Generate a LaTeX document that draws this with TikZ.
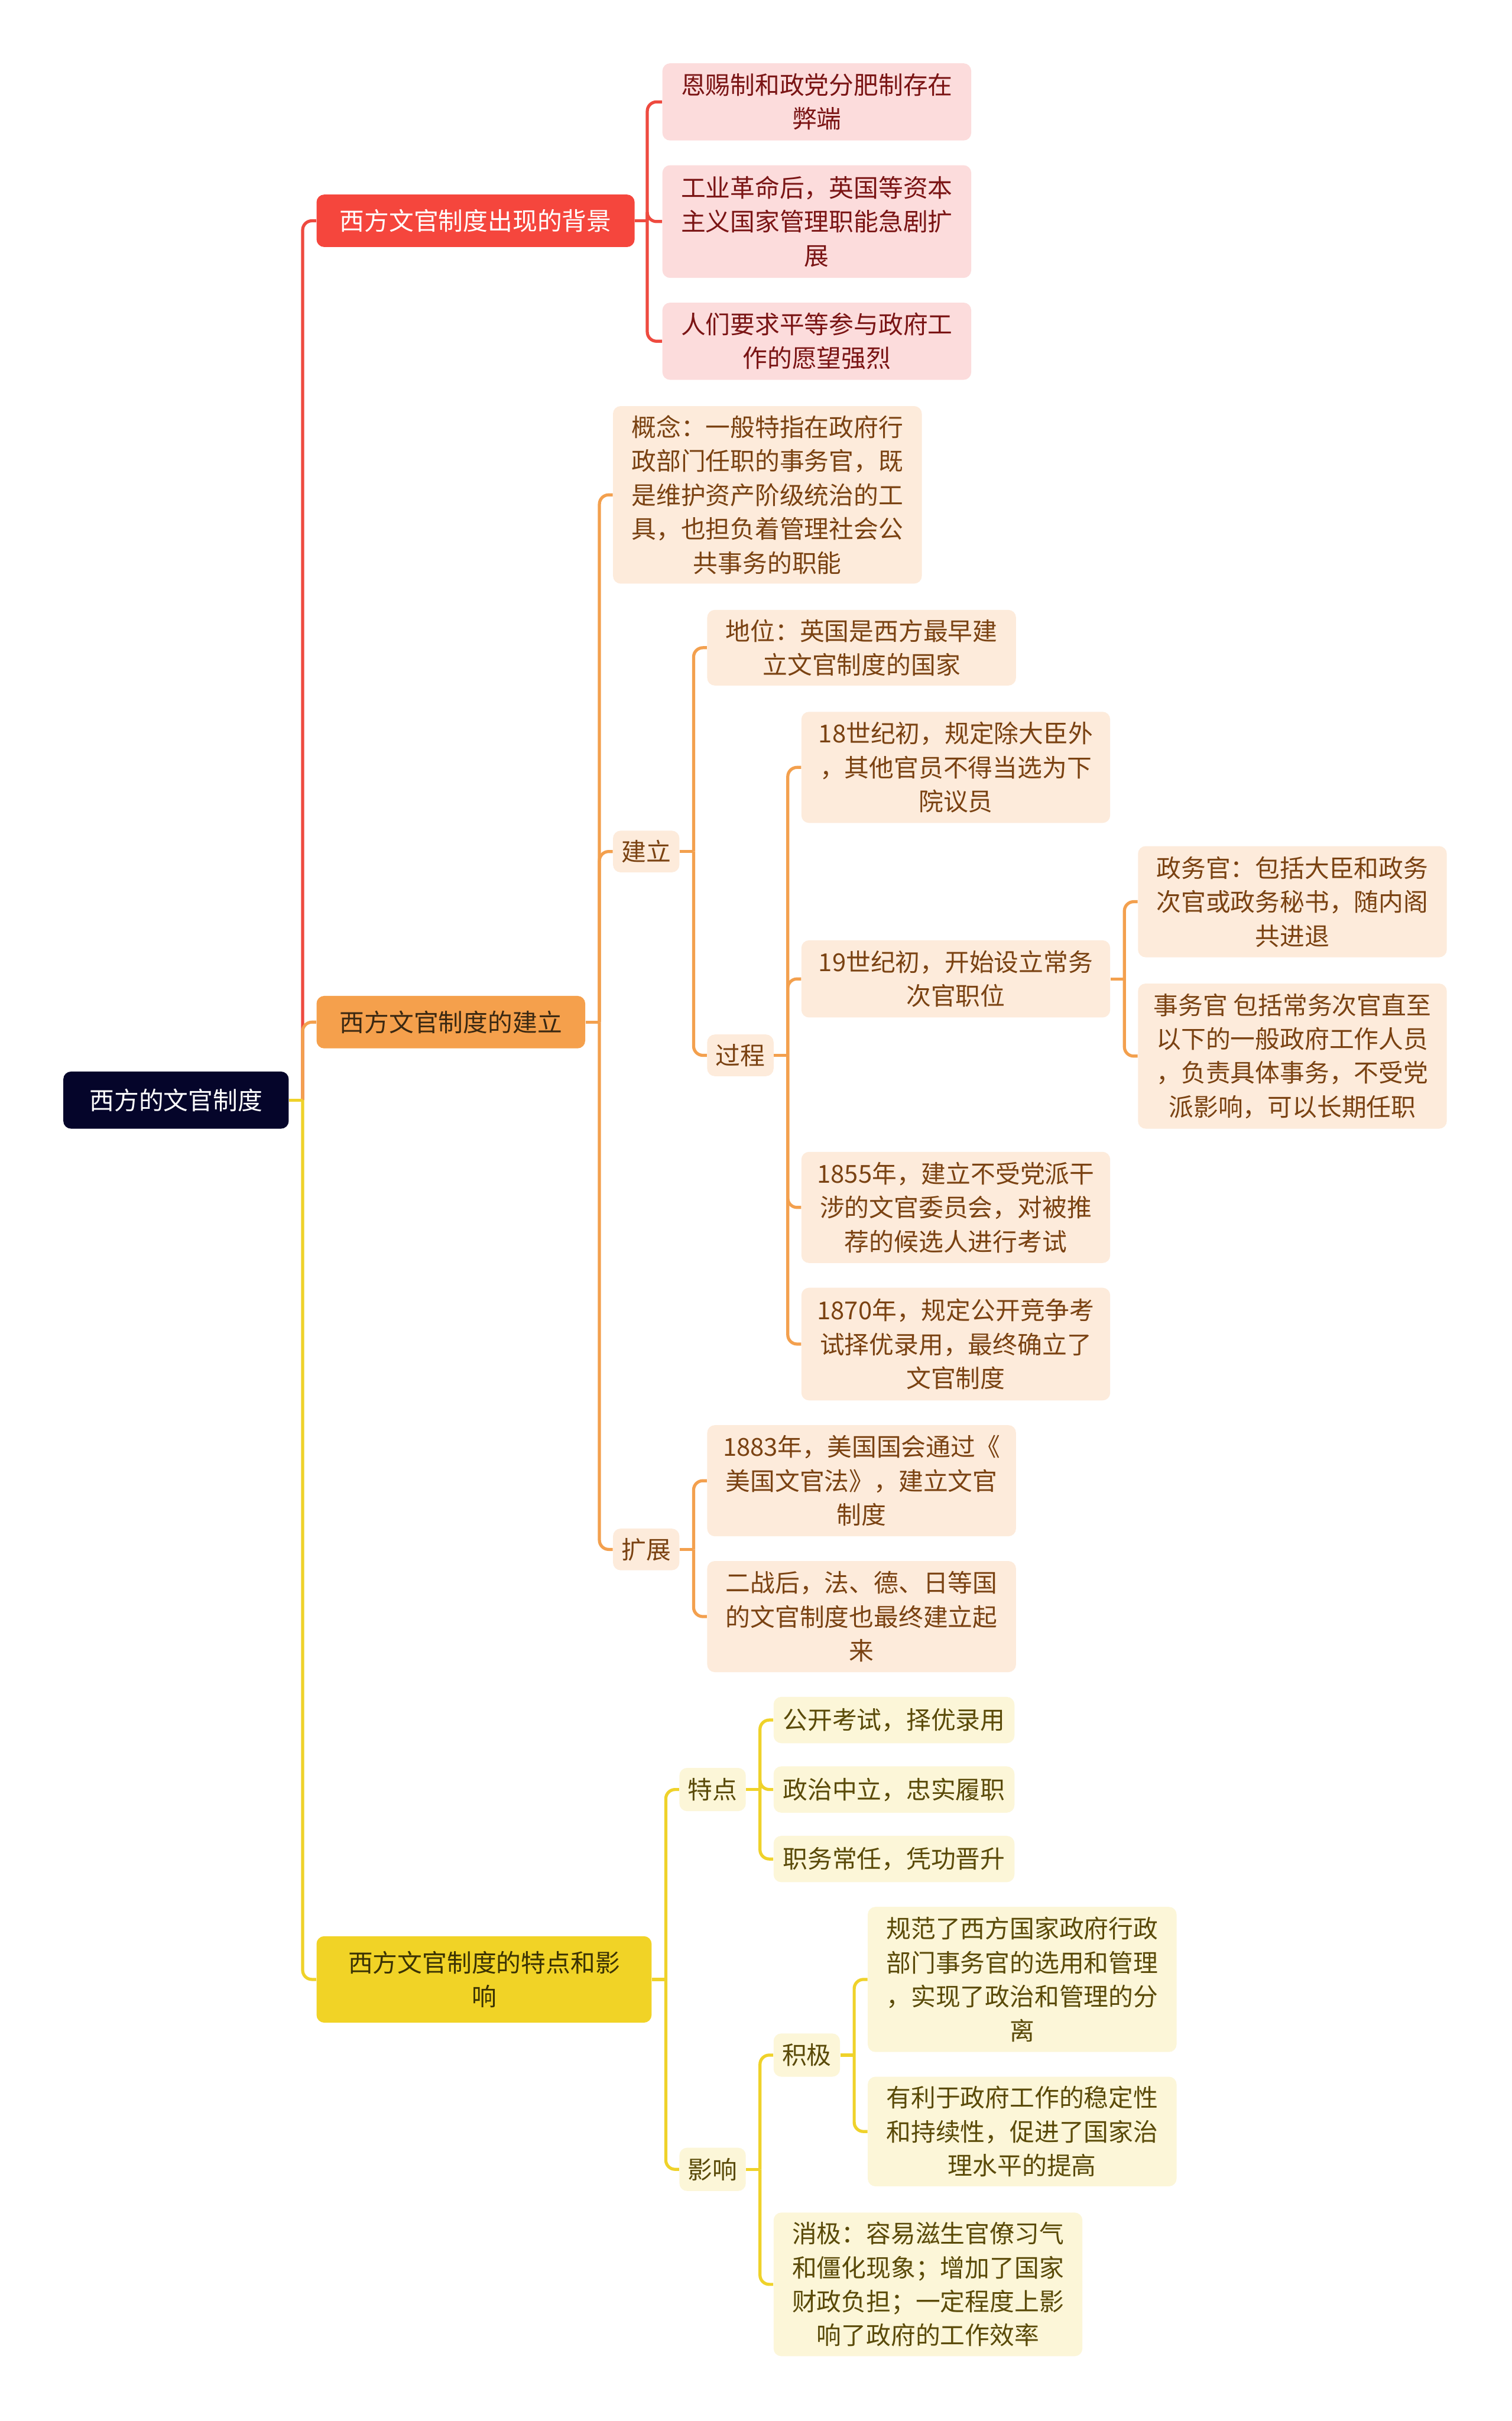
\documentclass[tikz,border=0pt]{standalone}
\usepackage{fontspec}
\newfontfamily\cjk{Noto Sans CJK SC}
\definecolor{rootfill}{HTML}{05052A}
\definecolor{redfill}{HTML}{F5463D}
\definecolor{redsubfill}{HTML}{FCDCDC}
\definecolor{redtext}{HTML}{7A1414}
\definecolor{orfill}{HTML}{F5A04C}
\definecolor{orsubfill}{HTML}{FDEBDB}
\definecolor{ortext}{HTML}{7A4212}
\definecolor{ortitle}{HTML}{3A2812}
\definecolor{yefill}{HTML}{F1D326}
\definecolor{yesubfill}{HTML}{FCF6D8}
\definecolor{yetext}{HTML}{5A4A08}
\definecolor{yetitle}{HTML}{3A3204}
\definecolor{redline}{HTML}{EE4A3F}
\definecolor{orline}{HTML}{F3A04E}
\definecolor{yeline}{HTML}{EFD22A}
\tikzset{
  box/.style={rounded corners=5pt, inner sep=0pt, align=center, font=\cjk\fontsize{16}{22}\selectfont},
  rootbox/.style={box, fill=rootfill, text=white},
  redtop/.style={box, fill=redfill, text=white},
  ortop/.style={box, fill=orfill, text=ortitle},
  yetop/.style={box, fill=yefill, text=yetitle},
  redsub/.style={box, fill=redsubfill, text=redtext},
  orsub/.style={box, fill=orsubfill, text=ortext},
  yesub/.style={box, fill=yesubfill, text=yetext},
  conn/.style={line width=2pt, rounded corners=6pt},
  redl/.style={conn, draw=redline},
  orl/.style={conn, draw=orline},
  yel/.style={conn, draw=yeline},
}
\begin{document}
\begin{tikzpicture}[x=1pt,y=-1pt]
\useasboundingbox[fill=white] (0,0) rectangle (979,1568);

% nodes
\node[rootbox, minimum width=146, minimum height=37] (root) at (114,712.5) {西方的文官制度};

\node[redtop, minimum width=206, minimum height=34] (A) at (308,143) {西方文官制度出现的背景};
\node[ortop, minimum width=174, minimum height=34] (B) at (292,662) {西方文官制度的建立};
\node[yetop, minimum width=217, minimum height=56] (C) at (313.5,1282) {西方文官制度的特点和影\\响};

\node[redsub, minimum width=200, minimum height=50] (A1) at (529,66) {恩赐制和政党分肥制存在\\弊端};
\node[redsub, minimum width=200, minimum height=73] (A2) at (529,143.5) {工业革命后，英国等资本\\主义国家管理职能急剧扩\\展};
\node[redsub, minimum width=200, minimum height=50] (A3) at (529,221) {人们要求平等参与政府工\\作的愿望强烈};

\node[orsub, minimum width=200, minimum height=115] (B1) at (497,320.5) {概念：一般特指在政府行\\政部门任职的事务官，既\\是维护资产阶级统治的工\\具，也担负着管理社会公\\共事务的职能};
\node[orsub, minimum width=43, minimum height=27] (B2) at (418.5,551.5) {建立};
\node[orsub, minimum width=43, minimum height=27] (B3) at (418.5,1003.5) {扩展};

\node[orsub, minimum width=200, minimum height=49] (B21) at (558,419.5) {地位：英国是西方最早建\\立文官制度的国家};
\node[orsub, minimum width=43, minimum height=27] (B22) at (479.5,683.5) {过程};

\node[orsub, minimum width=200, minimum height=72] (P1) at (619,497) {18世纪初，规定除大臣外\\，其他官员不得当选为下\\院议员};
\node[orsub, minimum width=200, minimum height=50] (P2) at (619,634) {19世纪初，开始设立常务\\次官职位};
\node[orsub, minimum width=200, minimum height=72] (P3) at (619,782) {1855年，建立不受党派干\\涉的文官委员会，对被推\\荐的候选人进行考试};
\node[orsub, minimum width=200, minimum height=73] (P4) at (619,870.5) {1870年，规定公开竞争考\\试择优录用，最终确立了\\文官制度};

\node[orsub, minimum width=200, minimum height=72] (P21) at (837,584) {政务官：包括大臣和政务\\次官或政务秘书，随内阁\\共进退};
\node[orsub, minimum width=200, minimum height=94] (P22) at (837,684) {事务官 包括常务次官直至\\以下的一般政府工作人员\\，负责具体事务，不受党\\派影响，可以长期任职};

\node[orsub, minimum width=200, minimum height=72] (E1) at (558,959) {1883年，美国国会通过《\\美国文官法》，建立文官\\制度};
\node[orsub, minimum width=200, minimum height=72] (E2) at (558,1047) {二战后，法、德、日等国\\的文官制度也最终建立起\\来};

\node[yesub, minimum width=43, minimum height=28] (C1) at (461.5,1159) {特点};
\node[yesub, minimum width=43, minimum height=28] (C2) at (461.5,1405) {影响};

\node[yesub, minimum width=156, minimum height=30] (F1) at (579,1114) {公开考试，择优录用};
\node[yesub, minimum width=156, minimum height=30] (F2) at (579,1159) {政治中立，忠实履职};
\node[yesub, minimum width=156, minimum height=30] (F3) at (579,1204) {职务常任，凭功晋升};

\node[yesub, minimum width=43, minimum height=28] (G1) at (522.5,1331) {积极};
\node[yesub, minimum width=200, minimum height=93] (G2) at (601,1479.5) {消极：容易滋生官僚习气\\和僵化现象；增加了国家\\财政负担；一定程度上影\\响了政府的工作效率};

\node[yesub, minimum width=200, minimum height=94] (H1) at (662,1282) {规范了西方国家政府行政\\部门事务官的选用和管理\\，实现了政治和管理的分\\离};
\node[yesub, minimum width=200, minimum height=71] (H2) at (662,1380.5) {有利于政府工作的稳定性\\和持续性，促进了国家治\\理水平的提高};

% connectors: root trunk
\coordinate (j0) at (196,712.5);
\draw[redl] (j0) |- (A.west);
\draw[orl] (j0) |- (B.west);
\draw[yel] (j0) |- (C.west);
\draw[yel] (root.east) -- (j0);

% A
\draw[redl] (A.east) -- ++(8,0) coordinate (jA);
\foreach \n in {A1,A2,A3} \draw[redl] (jA) |- (\n.west);

% B
\draw[orl] (B.east) -- ++(9,0) coordinate (jB);
\foreach \n in {B1,B2,B3} \draw[orl] (jB) |- (\n.west);
\draw[orl] (B2.east) -- ++(9,0) coordinate (jB2);
\foreach \n in {B21,B22} \draw[orl] (jB2) |- (\n.west);
\draw[orl] (B22.east) -- ++(9,0) coordinate (jB22);
\foreach \n in {P1,P2,P3,P4} \draw[orl] (jB22) |- (\n.west);
\draw[orl] (P2.east) -- ++(9,0) coordinate (jP2);
\foreach \n in {P21,P22} \draw[orl] (jP2) |- (\n.west);
\draw[orl] (B3.east) -- ++(9,0) coordinate (jB3);
\foreach \n in {E1,E2} \draw[orl] (jB3) |- (\n.west);

% C
\draw[yel] (C.east) -- ++(9,0) coordinate (jC);
\foreach \n in {C1,C2} \draw[yel] (jC) |- (\n.west);
\draw[yel] (C1.east) -- ++(9,0) coordinate (jC1);
\foreach \n in {F1,F2,F3} \draw[yel] (jC1) |- (\n.west);
\draw[yel] (C2.east) -- ++(9,0) coordinate (jC2);
\foreach \n in {G1,G2} \draw[yel] (jC2) |- (\n.west);
\draw[yel] (G1.east) -- ++(9,0) coordinate (jG1);
\foreach \n in {H1,H2} \draw[yel] (jG1) |- (\n.west);
\end{tikzpicture}
\end{document}
